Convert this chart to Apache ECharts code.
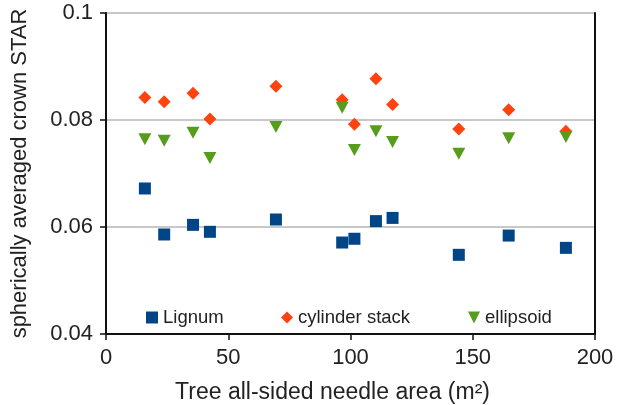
<!DOCTYPE html>
<html><head><meta charset="utf-8">
<script src="https://cdn.jsdelivr.net/npm/echarts@6/dist/echarts.min.js"></script>
<style>html,body{margin:0;padding:0;background:#fff}#c{width:625px;height:405px}</style>
</head><body><div id="c"></div>
<script>
const needleArea = [15.9, 23.8, 35.6, 42.5, 69.5, 96.6, 101.6, 110.4, 117.2, 144.3, 164.7, 188.1];
const lignum = [0.0672, 0.0586, 0.0604, 0.0591, 0.0614, 0.0571, 0.0578, 0.0611, 0.0617, 0.0548, 0.0584, 0.0561];
const cylinderStack = [0.0842, 0.0834, 0.0850, 0.0802, 0.0863, 0.0838, 0.0792, 0.0877, 0.0829, 0.0783, 0.0819, 0.0779];
const ellipsoid = [0.0764, 0.0761, 0.0776, 0.0729, 0.0787, 0.0823, 0.0744, 0.0779, 0.0759, 0.0737, 0.0766, 0.0768];
const seriesNames = ['Lignum', 'cylinder stack', 'ellipsoid'];
const xTitle = 'Tree all-sided needle area (m²)';
const yTitle = 'spherically averaged crown STAR';

const font = 'Liberation Sans';
const colors = ['#004586', '#ff420e', '#579d1c'];
const triDown = 'path://M0,0L10,0L5,10Z';
const pairs = ys => needleArea.map((x, i) => [x, ys[i]]);

const chart = echarts.init(document.getElementById('c'), null, {renderer: 'canvas'});
const legendBase = {
  top: 308, padding: 0, itemWidth: 12, itemHeight: 12, itemGap: 4,
  textStyle: {fontFamily: font, fontSize: 18.5, color: '#222'},
  selectedMode: false
};
chart.setOption({
  animation: false,
  grid: {left: 106, right: 30, top: 13, bottom: 71, show: false, containLabel: false, outerBoundsMode: 'none'},
  xAxis: {
    type: 'value', min: 0, max: 200, interval: 50,
    name: xTitle, nameLocation: 'middle', nameGap: 47,
    nameTextStyle: {fontFamily: font, fontSize: 23, color: '#222', padding: [0, 36, 0, 0]},
    axisLine: {show: true, onZero: false, lineStyle: {color: '#111', width: 2}},
    axisTick: {show: true, length: 6, lineStyle: {color: '#111', width: 1.5}},
    axisLabel: {fontFamily: font, fontSize: 22, color: '#222', margin: 13},
    splitLine: {show: false}
  },
  yAxis: [{
    type: 'value', min: 0.04, max: 0.1, interval: 0.02,
    name: yTitle, nameLocation: 'middle', nameGap: 75,
    nameTextStyle: {fontFamily: font, fontSize: 22, color: '#222'},
    axisLine: {show: true, onZero: false, lineStyle: {color: '#111', width: 2}},
    axisTick: {show: true, length: 6, lineStyle: {color: '#111', width: 1.5}},
    axisLabel: {fontFamily: font, fontSize: 22, color: '#222', margin: 13,
      formatter: v => String(Math.round(v * 100) / 100)},
    splitLine: {show: true, lineStyle: {color: '#c8c8c8', width: 2}}
  }, {
    type: 'value', min: 0.04, max: 0.1, interval: 0.02, position: 'right',
    axisLine: {show: true, onZero: false, lineStyle: {color: '#111', width: 2}},
    axisTick: {show: false}, axisLabel: {show: false}, splitLine: {show: false}
  }],
  legend: [
    Object.assign({}, legendBase, {left: 146, data: [{name: seriesNames[0], icon: 'rect'}]}),
    Object.assign({}, legendBase, {left: 281, data: [{name: seriesNames[1], icon: 'diamond'}]}),
    Object.assign({}, legendBase, {left: 468, data: [{name: seriesNames[2], icon: triDown}]})
  ],
  series: [
    {name: seriesNames[0], type: 'scatter', data: pairs(lignum), symbol: 'rect', symbolSize: 12,
     itemStyle: {color: colors[0], opacity: 1}},
    {name: seriesNames[1], type: 'scatter', data: pairs(cylinderStack), symbol: 'diamond', symbolSize: 13,
     itemStyle: {color: colors[1], opacity: 1}},
    {name: seriesNames[2], type: 'scatter', data: pairs(ellipsoid), symbol: triDown, symbolSize: [13, 12],
     itemStyle: {color: colors[2], opacity: 1}}
  ]
});
</script></body></html>
